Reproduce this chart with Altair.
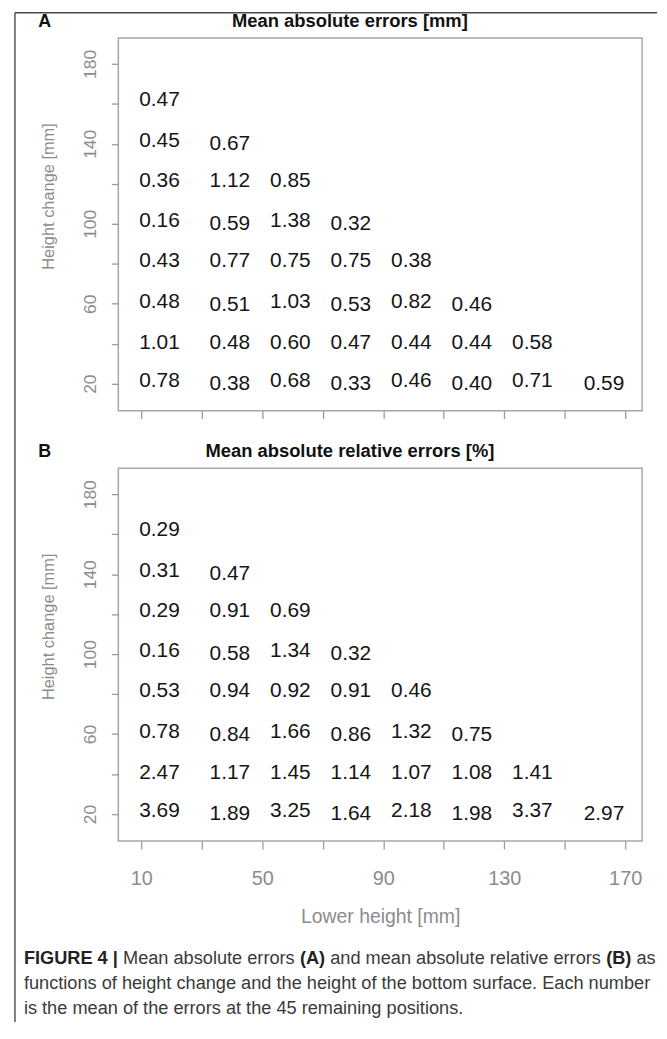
import altair as alt
import pandas as pd

# ---------------- data ----------------
# lower height of each column and height change of each row (as placed in the picture)
lower_height = [16, 39.3, 59.3, 79.3, 99.3, 119.3, 139.3, 163]
height_change = [162, 141.5, 121.5, 101.5, 81.5, 61, 40.5, 21.5]

mae_mm = [
    ["0.47"],
    ["0.45", "0.67"],
    ["0.36", "1.12", "0.85"],
    ["0.16", "0.59", "1.38", "0.32"],
    ["0.43", "0.77", "0.75", "0.75", "0.38"],
    ["0.48", "0.51", "1.03", "0.53", "0.82", "0.46"],
    ["1.01", "0.48", "0.60", "0.47", "0.44", "0.44", "0.58"],
    ["0.78", "0.38", "0.68", "0.33", "0.46", "0.40", "0.71", "0.59"],
]
mare_pct = [
    ["0.29"],
    ["0.31", "0.47"],
    ["0.29", "0.91", "0.69"],
    ["0.16", "0.58", "1.34", "0.32"],
    ["0.53", "0.94", "0.92", "0.91", "0.46"],
    ["0.78", "0.84", "1.66", "0.86", "1.32", "0.75"],
    ["2.47", "1.17", "1.45", "1.14", "1.07", "1.08", "1.41"],
    ["3.69", "1.89", "3.25", "1.64", "2.18", "1.98", "3.37", "2.97"],
]
x_ticks = [10, 30, 50, 70, 90, 110, 130, 150, 170]
x_labels = [10, 50, 90, 130, 170]
y_ticks = [20, 40, 60, 80, 100, 120, 140, 160, 180]
y_labels = [20, 60, 100, 140, 180]

titles = ["Mean absolute errors [mm]", "Mean absolute relative errors [%]"]
letters = ["A", "B"]
x_title = "Lower height [mm]"
y_title = "Height change [mm]"

caption = [
    [("FIGURE 4 |", True), (" Mean absolute errors ", False), ("(A)", True),
     (" and mean absolute relative errors ", False), ("(B)", True), (" as", False)],
    [("functions of height change and the height of the bottom surface. Each number", False)],
    [("is the mean of the errors at the 45 remaining positions.", False)],
]

# ---------------- layout ----------------
W, H = 527, 375
FONT = "Liberation Sans"
GRAY = "#8c8c8c"

xs = alt.Scale(domain=[2.4, 175.6], nice=False, zero=False)
ys = alt.Scale(domain=[6.5, 193], nice=False, zero=False)

# Arial / Liberation Sans advance widths (1/1000 em)
REG = {" ": 278, "(": 333, ")": 333, ".": 278, ",": 278, "|": 260}
BOLD = {" ": 278, "(": 333, ")": 333, ".": 278, ",": 278, "|": 280}
for c in "0123456789":
    REG[c] = 556
    BOLD[c] = 556
REG.update(dict(zip("ABCDEFGHIJKLMNOPQRSTUVWXYZ",
                    [667, 667, 722, 722, 667, 611, 778, 722, 278, 500, 667, 556, 833,
                     722, 778, 667, 778, 722, 667, 611, 722, 667, 944, 667, 667, 611])))
REG.update(dict(zip("abcdefghijklmnopqrstuvwxyz",
                    [556, 556, 500, 556, 556, 278, 556, 556, 222, 222, 500, 222, 833,
                     556, 556, 556, 556, 333, 500, 278, 556, 500, 722, 500, 500, 500])))
BOLD.update(dict(zip("ABCDEFGHIJKLMNOPQRSTUVWXYZ",
                     [722, 722, 722, 722, 667, 611, 778, 722, 278, 556, 722, 611, 833,
                      722, 778, 667, 778, 722, 667, 611, 722, 667, 944, 667, 667, 611])))


def text_width(s, bold, size):
    table = BOLD if bold else REG
    return sum(table.get(c, 556) for c in s) / 1000.0 * size


CAP_SIZE = 18.3


def table(rows):
    recs = []
    for i, (hc, row) in enumerate(zip(height_change, rows)):
        for j, v in enumerate(row):
            recs.append({"lower": lower_height[j], "change": hc, "value": v,
                         "low": bool(i % 2 == 1 and j % 2 == 1)})
    return pd.DataFrame(recs)


def label_expr(vals):
    return "indexof([" + ",".join(str(v) for v in vals) + "], datum.value) >= 0 ? datum.label : ''"


one = pd.DataFrame({"k": [0]})


def panel(rows, idx):
    df = table(rows)
    last = idx == 1
    if last:
        xaxis = alt.Axis(values=x_ticks, labelExpr=label_expr(x_labels), tickSize=8,
                         labelPadding=20, labelFlush=False, labelOverlap=False,
                         labelFontSize=20,
                         title=x_title, titleX=W / 2, titleY=82, titleAlign="center",
                         titleBaseline="alphabetic", titleFontSize=19.5)
    else:
        xaxis = alt.Axis(values=x_ticks, labels=False, tickSize=8, title=None)
    yaxis = alt.Axis(values=y_ticks, labelExpr=label_expr(y_labels), labelAngle=270,
                     labelAlign="center", labelBaseline="alphabetic", labelPadding=16,
                     labelFontSize=17.5,
                     tickSize=7, labelOverlap=False, labelFlush=False,
                     title=y_title, titleAngle=270, titleX=-65, titleY=159,
                     titleFontSize=16.5,
                     titleAlign="center", titleBaseline="alphabetic")
    base = alt.Chart(df).encode(
        x=alt.X("lower:Q", scale=xs, axis=xaxis),
        y=alt.Y("change:Q", scale=ys, axis=yaxis),
        text="value:N",
    )
    num = dict(font=FONT, fontSize=21, color="#151515", align="center", baseline="middle")
    t1 = base.transform_filter("!datum.low").mark_text(**num)
    t2 = base.transform_filter("datum.low").mark_text(dy=3, **num)

    d = alt.Chart(one)
    letter = d.mark_text(font=FONT, fontSize=18, fontWeight="bold", color="#111",
                         align="center", baseline="alphabetic").encode(
        x=alt.value(-74), y=alt.value(-11), text=alt.value(letters[idx]))
    ttl = d.mark_text(font=FONT, fontSize=18.5, fontWeight="bold", color="#111",
                      align="center", baseline="alphabetic").encode(
        x=alt.value(233), y=alt.value(-11), text=alt.value(titles[idx]))
    layers = [t1, t2, letter, ttl]
    if idx == 0:
        left = d.mark_rule(color="#4a4a4a", strokeWidth=1.4).encode(
            x=alt.value(-104), y=alt.value(-25.3), y2=alt.value(990))
        top = d.mark_rule(color="#4a4a4a", strokeWidth=1.4).encode(
            x=alt.value(-104), x2=alt.value(542), y=alt.value(-25.3))
        layers += [left, top]
    if last:
        x0 = -95
        for li, line in enumerate(caption):
            xpos = x0
            for seg, bold in line:
                lead = len(seg) - len(seg.lstrip(" "))
                core = seg.strip(" ")
                xstart = xpos + text_width(" " * lead, bold, CAP_SIZE)
                m = d.mark_text(font=FONT, fontSize=CAP_SIZE,
                                fontWeight="bold" if bold else "normal",
                                color="#222" if bold else "#3a3a3a",
                                align="left", baseline="alphabetic").encode(
                    x=alt.value(xstart), y=alt.value(499 + 25 * li), text=alt.value(core))
                layers.append(m)
                xpos += text_width(seg, bold, CAP_SIZE)
    return alt.layer(*layers).properties(width=W, height=H)


chart = alt.vconcat(panel(mae_mm, 0), panel(mare_pct, 1), spacing=58, bounds="flush").properties(
    padding={"left": 5, "top": 0, "right": 0, "bottom": 0}
).configure_view(
    stroke="#a6a6a6", strokeWidth=1.5
).configure_axis(
    labelFont=FONT, titleFont=FONT, labelColor=GRAY, titleColor=GRAY,
    tickColor="#9a9a9a", tickWidth=1.3, domain=False, grid=False,
    labelFontSize=20, titleFontSize=20, titleFontWeight="normal",
)

chart.save("out.html", embed_options={"renderer": "svg", "actions": False})
